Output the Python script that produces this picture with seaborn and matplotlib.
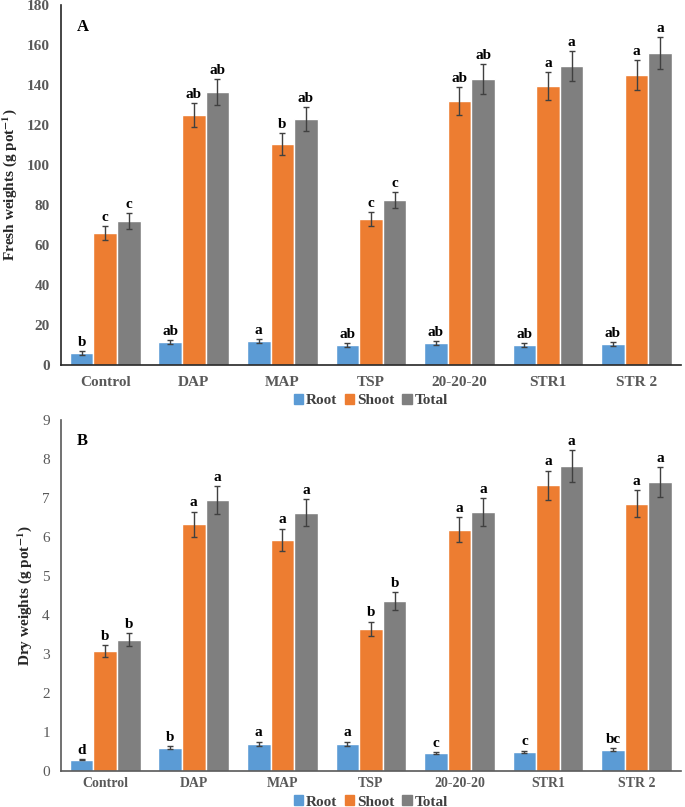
import numpy as np
import pandas as pd
import seaborn as sns
import matplotlib.pyplot as plt

treatments = ['Control', 'DAP', 'MAP', 'TSP', '20-20-20', 'STR1', 'STR 2']
parts = ['Root', 'Shoot', 'Total']

# fresh weights (g pot-1)
fresh_root = [6, 11.5, 12, 9.8, 10.8, 9.8, 10.3]
fresh_shoot = [66, 125, 110.5, 73, 132, 139.5, 145]
fresh_total = [72, 136.5, 123, 82.5, 143, 149.5, 156]
fresh_root_err = [1.0, 1.0, 1.0, 1.0, 1.0, 1.0, 1.0]
fresh_shoot_err = [3.5, 6.2, 5.5, 3.7, 7.0, 7.0, 7.3]
fresh_total_err = [3.8, 6.7, 6.0, 4.0, 7.3, 7.5, 7.8]
fresh_root_let = ['b', 'ab', 'a', 'ab', 'ab', 'ab', 'ab']
fresh_shoot_let = ['c', 'ab', 'b', 'c', 'ab', 'a', 'a']
fresh_total_let = ['c', 'ab', 'ab', 'c', 'ab', 'a', 'a']

# dry weights (g pot-1)
dry_root = [0.29, 0.6, 0.7, 0.7, 0.46, 0.49, 0.55]
dry_shoot = [3.07, 6.33, 5.92, 3.64, 6.18, 7.33, 6.85]
dry_total = [3.37, 6.95, 6.62, 4.36, 6.64, 7.82, 7.41]
dry_root_err = [0.02, 0.03, 0.05, 0.05, 0.03, 0.03, 0.03]
dry_shoot_err = [0.15, 0.32, 0.29, 0.19, 0.32, 0.37, 0.35]
dry_total_err = [0.17, 0.35, 0.35, 0.23, 0.36, 0.40, 0.38]
dry_root_let = ['d', 'b', 'a', 'a', 'c', 'c', 'bc']
dry_shoot_let = ['b', 'a', 'a', 'b', 'a', 'a', 'a']
dry_total_let = ['b', 'a', 'a', 'b', 'a', 'a', 'a']

colors = ['#5B9BD5', '#ED7D31', '#7F7F7F']

sns.set_style("white")
plt.rcParams['font.family'] = ['Liberation Serif', 'DejaVu Serif']
plt.rcParams['mathtext.fontset'] = 'stix'
plt.rcParams['mathtext.default'] = 'bf'


def make_df(root, shoot, total):
    rows = []
    for vals, p in zip([root, shoot, total], parts):
        for t, v in zip(treatments, vals):
            rows.append({'treatment': t, 'part': p, 'value': v})
    return pd.DataFrame(rows)


def draw_panel(ax, vals, errs, lets, ymax, yticks, off, letter, ylabel,
               tick_bold, spine_col, leg_y, xsize, xpad):
    df = make_df(*vals)
    sns.barplot(data=df, x='treatment', y='value', hue='part', order=treatments,
                hue_order=parts, palette=colors, width=0.8, errorbar=None,
                saturation=1, ax=ax)
    for cont, err, let in zip(ax.containers, errs, lets):
        xs = [b.get_x() + b.get_width() / 2 for b in cont]
        hs = [b.get_height() for b in cont]
        ax.errorbar(xs, hs, yerr=err, fmt='none', ecolor='#404040',
                    elinewidth=1, capsize=2.5, capthick=1)
        for x, h, e, l in zip(xs, hs, err, let):
            ax.text(x, h + e + off, l, ha='center', va='bottom',
                    fontsize=11, fontweight='bold', color='black')
    ax.set_ylim(0, ymax)
    ax.set_xlim(-0.5, 6.5)
    ax.set_yticks(yticks)
    ax.set_xlabel('')
    ax.set_ylabel(ylabel, fontsize=11, fontweight='bold', labelpad=6)
    w = 'bold' if tick_bold else 'normal'
    ax.set_yticklabels([str(t) for t in yticks], fontsize=11, fontweight=w, color='#595959')
    ax.set_xticks(range(len(treatments)))
    ax.set_xticklabels(treatments, fontsize=xsize, fontweight='bold', color='#595959')
    ax.tick_params(axis='y', length=0, pad=8)
    ax.tick_params(axis='x', length=0, pad=xpad)
    sns.despine(ax=ax)
    ax.spines['left'].set_color(spine_col)
    ax.spines['bottom'].set_color(spine_col)
    ax.spines['left'].set_linewidth(1.2)
    ax.spines['bottom'].set_linewidth(1.2)
    ax.text(0.026, 0.94, letter, transform=ax.transAxes, fontsize=12,
            fontweight='bold', color='black', va='center')
    handles = [plt.Rectangle((0, 0), 1, 1, color=c) for c in colors]
    ax.legend(handles, parts, loc='upper center', bbox_to_anchor=(0.5, leg_y),
              ncol=3, frameon=False, handlelength=0.6, handleheight=0.6,
              handletextpad=0.2, columnspacing=0.5, borderpad=0.1,
              prop={'family': 'Liberation Serif', 'weight': 'bold', 'size': 11},
              labelcolor='#404040')


fig = plt.figure(figsize=(6.85, 8.07), dpi=100)
ax1 = fig.add_axes([0.089, 0.5477, 0.905, 0.4461])
ax2 = fig.add_axes([0.089, 0.0446, 0.905, 0.435])

draw_panel(ax1, [fresh_root, fresh_shoot, fresh_total],
           [fresh_root_err, fresh_shoot_err, fresh_total_err],
           [fresh_root_let, fresh_shoot_let, fresh_total_let],
           180, list(range(0, 181, 20)), 1.0, 'A',
           r'Fresh weights (g pot$^{-1}$)', True, '#262626', -0.055, 11, 8)
draw_panel(ax2, [dry_root, dry_shoot, dry_total],
           [dry_root_err, dry_shoot_err, dry_total_err],
           [dry_root_let, dry_shoot_let, dry_total_let],
           9, list(range(0, 10)), 0.06, 'B',
           r'Dry weights (g pot$^{-1}$)', False, '#595959', -0.043, 10, 4)

fig.savefig('out.png', dpi=100)
